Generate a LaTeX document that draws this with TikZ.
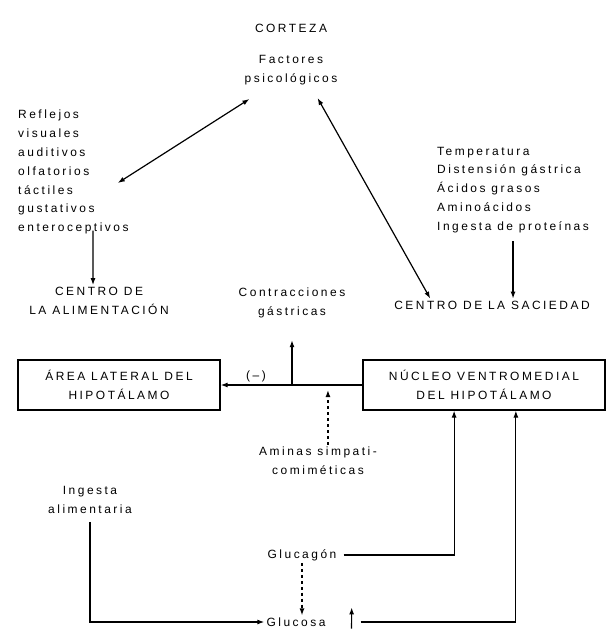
\documentclass[tikz,border=0pt]{standalone}
\usepackage{fontspec}
\setmainfont{Liberation Sans}[LetterSpace=21]
\usetikzlibrary{arrows.meta}
\newcommand{\etiq}{\fontsize{12}{19}\selectfont}

\begin{document}
\begin{tikzpicture}[x=1bp,y=-1bp,
	texto/.style={font=\etiq,align=center,inner sep=2bp},
	caja/.style={texto,draw,line width=1.2bp,minimum height=50bp},
	flecha/.style={-{Latex[length=7bp,width=5bp]},line width=1.2bp},
	doble/.style={{Latex[length=7bp,width=5bp]}-{Latex[length=7bp,width=5bp]},line width=1.2bp}]
\useasboundingbox (0,0) rectangle (607,630);

\node[texto] (corteza) at (291,28) {CORTEZA};
\node[texto] (factores) at (291,70) {Factores\\psicológicos};
\node[texto,align=left,anchor=west] (reflejos) at (16,172) {Reflejos\\visuales\\auditivos\\olfatorios\\táctiles\\gustativos\\enteroceptivos};
\node[texto,align=left,anchor=west] (temperatura) at (435,190) {Temperatura\\Distensión gástrica\\Ácidos grasos\\Aminoácidos\\Ingesta de proteínas};
\node[texto] (centroA) at (99,301) {CENTRO DE\\LA ALIMENTACIÓN};
\node[texto] (contr) at (292,303) {Contracciones\\gástricas};
\node[texto] (centroS) at (492,305) {CENTRO DE LA SACIEDAD};
\node[caja,minimum width=202bp] (areaLat) at (119,385) {ÁREA LATERAL DEL\\HIPOTÁLAMO};
\node[caja,minimum width=242bp] (nucleo) at (484,385) {NÚCLEO VENTROMEDIAL\\DEL HIPOTÁLAMO};
\node[texto] (aminas) at (318,461) {Aminas simpati-\\comiméticas};
\node[texto] (ingesta) at (90,500) {Ingesta\\alimentaria};
\node[texto] (glucagon) at (302,555) {Glucagón};
\node[texto] (glucosa) at (296,622) {Glucosa};

\draw[doble] ([shift={(7,12)}]factores.south west) -- ([shift={(-13,11)}]reflejos.east);
\draw[doble] ([shift={(-22,11)}]factores.south east) -- ([xshift=-62]centroS.north);
\draw[flecha] ([shift={(-6,-6)}]reflejos.south -| centroA.north) -- ([xshift=-6]centroA.north);
\draw[flecha] ([yshift=-6]temperatura.south) -- (temperatura.south |- centroS.north);

\draw[flecha] (nucleo.west) -- (areaLat.east) node[texto,pos=0.75,above] {(–)};
\draw[flecha,shorten >=20bp] (contr.south |- nucleo.west) -- (contr.south);
\draw[flecha,line width=1.6bp,dash pattern=on 3bp off 3bp,shorten >=5bp] ([xshift=10]aminas.north) -- ([xshift=10]aminas.north |- nucleo.west);

\draw[flecha,shorten <=6bp] (ingesta.south) |- (glucosa.west);
\draw[flecha,shorten <=5bp] (glucagon.east) -| ([xshift=-30]nucleo.south);
\draw[flecha,dashed] (glucagon.south) -- (glucagon.south |- glucosa.north);
\draw[flecha] ([xshift=24]glucosa.south east) -- ([shift={(24,-8)}]glucosa.north east);
\draw[flecha] ([xshift=33]glucosa.east) -| ([xshift=32]nucleo.south);

\end{tikzpicture}
\end{document}
